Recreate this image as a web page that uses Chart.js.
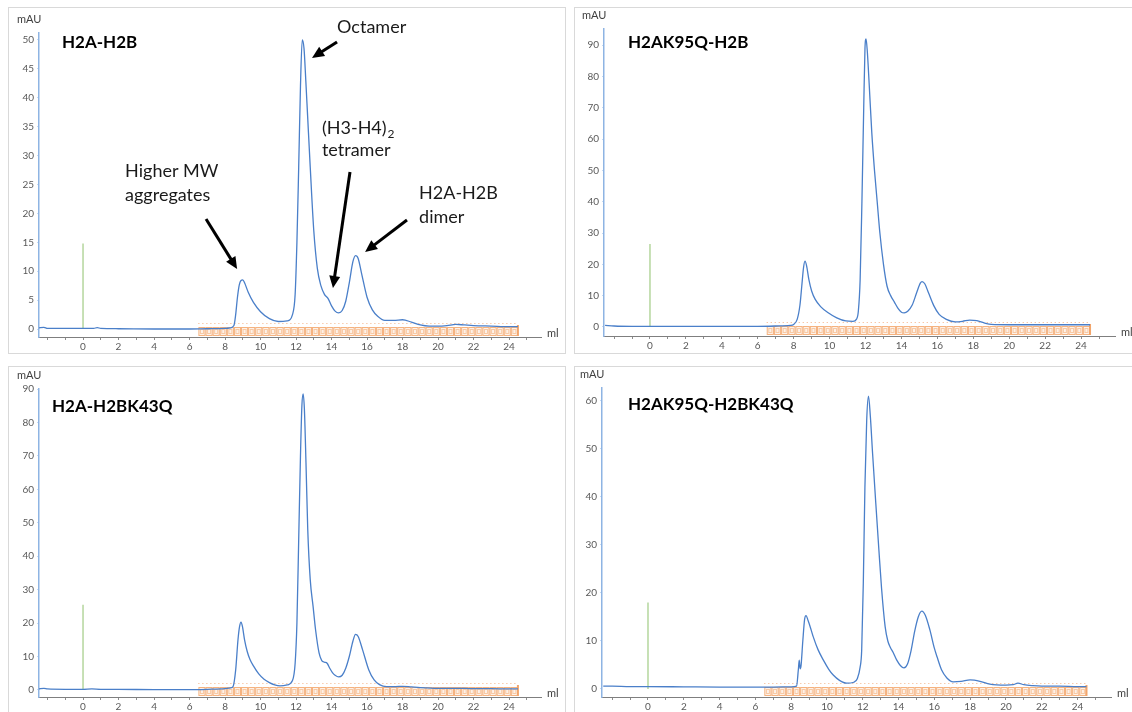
<!DOCTYPE html>
<html><head><meta charset="utf-8">
<script src="https://cdn.jsdelivr.net/npm/chart.js@4.4.0/dist/chart.umd.min.js"></script>
<style>
html,body{margin:0;padding:0;background:#fff;width:1132px;height:712px;overflow:hidden;}
.panel{position:absolute;border:1px solid #d9d9d9;box-sizing:border-box;background:#fff;}
.panel canvas{position:absolute;left:-1px;top:-1px;}
</style></head><body>
<div class="panel" style="left:8px;top:7px;width:558px;height:347px"><canvas id="c1" width="558" height="347"></canvas></div>
<div class="panel" style="left:574px;top:7px;width:560px;height:347px"><canvas id="c2" width="558" height="347"></canvas></div>
<div class="panel" style="left:8px;top:366px;width:558px;height:350px"><canvas id="c3" width="558" height="346"></canvas></div>
<div class="panel" style="left:574px;top:366px;width:560px;height:350px"><canvas id="c4" width="558" height="346"></canvas></div>
<script>
// ---- data (ml, mAU) ----
const titles = ['H2A-H2B', 'H2AK95Q-H2B', 'H2A-H2BK43Q', 'H2AK95Q-H2BK43Q'];

const h2aH2B_ml  = [-2.5,-2.2,-2.0,-1.5,0,0.6,0.8,1.0,2,4,6,7,8,8.3,8.5,8.6,8.7,8.8,8.9,9.0,9.1,9.3,9.6,10,10.5,11,11.5,11.8,11.95,12.05,12.15,12.25,12.35,12.45,12.55,12.65,12.8,13.0,13.2,13.4,13.6,13.8,14.0,14.2,14.4,14.6,14.8,15.0,15.2,15.35,15.5,15.7,16.0,16.3,16.6,17.0,17.5,18.0,18.5,19.0,19.5,20,20.5,21,21.5,22,23,24,24.5];
const h2aH2B_mAU = [0.2,0.3,0.1,0.1,0.1,0.1,0.25,0.1,0.05,0,0,0.05,0.1,0.2,0.6,2.5,5.5,7.6,8.4,8.5,8.0,6.4,4.6,3.0,1.8,1.3,1.4,2.5,6,15,28,42,50,48.5,43,37,28,17,10.5,7.5,6.0,5.3,4.0,3.1,2.8,3.2,4.8,8.0,11.6,12.7,12.2,9.5,5.5,3.3,2.2,1.5,1.5,1.6,1.2,0.7,0.5,0.5,0.6,0.8,0.7,0.6,0.5,0.4,0.4];

const k95q_ml  = [-2.5,-2,-1,0,2,4,6,7,7.8,8.0,8.2,8.35,8.45,8.55,8.63,8.72,8.85,9.0,9.2,9.5,9.9,10.4,10.9,11.3,11.5,11.6,11.7,11.8,11.9,11.97,12.03,12.1,12.2,12.35,12.5,12.65,12.8,13.0,13.2,13.4,13.6,13.8,14.0,14.15,14.35,14.6,14.85,15.05,15.15,15.3,15.5,15.8,16.1,16.5,17.0,17.4,17.8,18.2,18.6,19.0,20,21,22,23,24,24.5];
const k95q_mAU = [0.5,0.3,0.2,0.2,0.2,0.2,0.2,0.3,0.5,0.8,2.5,7,13,19,21,19.5,15,11.5,8.8,6.5,4.6,2.9,1.9,1.8,2.5,5,15,40,70,89,92,88,78,62,50,40,30,20,13,10,8,6,4.7,4.5,5.0,7.0,11,14,14.5,13.8,11,6.8,4,2.4,1.6,1.8,2.2,2.0,1.3,0.8,0.7,0.7,0.7,0.7,0.7,0.7];

const k43q_ml  = [-2.5,-2.2,-2,-1,0,0.5,1,2,4,6,7,8,8.3,8.45,8.6,8.73,8.82,8.9,8.98,9.1,9.25,9.4,9.6,9.9,10.2,10.5,10.8,11.1,11.5,11.8,11.95,12.05,12.15,12.25,12.33,12.4,12.47,12.56,12.66,12.8,12.96,13.1,13.3,13.45,13.6,13.75,13.9,14.05,14.2,14.4,14.6,14.8,15.0,15.2,15.35,15.5,15.75,16.1,16.4,16.7,17.1,17.6,18.0,18.5,19,20,21,22,23,24,24.5];
const k43q_mAU = [0.3,0.5,0.3,0.2,0.2,0.3,0.2,0.2,0.1,0.1,0.2,0.4,0.6,1.0,6,15,19,20.3,19,15,11.5,9.2,7.2,4.8,3.2,2.2,1.5,1.2,1.5,2.8,8,20,45,70,85,88.5,84,68,48,33,25,18,11,8.8,8.3,8.0,6.5,5.2,4.4,3.9,4.4,6.5,10,14.5,16.6,16,12,6,3,1.6,1.0,1.0,1.1,0.9,0.7,0.5,0.5,0.4,0.4,0.3,0.3];

const dbl_ml  = [-2.5,-2,-1,0,2,4,6,7,8,8.3,8.4,8.45,8.5,8.55,8.65,8.75,8.83,8.95,9.1,9.23,9.5,9.8,10.1,10.35,10.7,11.1,11.5,11.7,11.85,11.94,12.03,12.12,12.22,12.32,12.42,12.55,12.74,12.9,13.05,13.25,13.4,13.55,13.7,13.9,14.1,14.3,14.5,14.7,14.9,15.1,15.3,15.5,15.75,16.0,16.15,16.4,16.7,17.05,17.5,18.0,18.55,19.1,20.0,20.4,20.67,21.0,21.5,22,23,24,24.5];
const dbl_mAU = [0.6,0.6,0.5,0.5,0.45,0.4,0.4,0.4,0.45,0.6,4,6,4.2,4.8,10,14.5,15.3,14.2,12.5,10.9,8.2,6,4.1,2.9,1.8,1.2,1.4,2.2,4.5,8.1,22,42,56,61,57,49,38,29,21,13,10,8.6,7.6,6.0,4.9,4.4,5.2,8,12,15,16.2,15.3,12.3,8.5,6.7,4.0,2.3,1.5,1.6,1.9,1.6,1.0,0.8,0.9,1.2,0.9,0.7,0.6,0.6,0.5,0.5];

// injection marker heights (mAU) at 0 ml
const injectMarker = [14.8, 26.5, 25.5, 18];
// fraction collector boundaries (ml)
const fractionEdges = [6.5,6.9,7.3,7.7,8.1,8.5,8.9,9.3,9.7,10.1,10.5,10.9,11.3,11.7,12.1,12.5,12.9,13.3,13.7,14.1,14.5,14.9,15.3,15.7,16.1,16.5,16.9,17.3,17.7,18.1,18.5,18.9,19.3,19.7,20.1,20.5,20.9,21.3,21.7,22.1,22.5,22.9,23.3,23.7,24.1,24.5];
// tick values
const xTickMarks = [-2,-1,0,1,2,3,4,5,6,7,8,9,10,11,12,13,14,15,16,17,18,19,20,21,22,23,24,25];
const xTickLabels = [0,2,4,6,8,10,12,14,16,18,20,22,24];
const yTicks = [
  [0,5,10,15,20,25,30,35,40,45,50],
  [0,10,20,30,40,50,60,70,80,90],
  [0,10,20,30,40,50,60,70,80,90],
  [0,10,20,30,40,50,60]
];
// axis ranges
const yMin = [-1.38, -2.9, -2.1, -1.67];
const yMax = [51.2, 95.2, 90, 62.7];
const xMin = [-2.48, -2.56, -2.48, -2.57];
const xMax = [25.8, 25.89, 25.8, 25.87];

// annotations on first panel (data coords)
const noteTexts = [
  {t:'Octamer', x:14.31, y:52.25},
  {t:'(H3-H4)', sub:'2', x:13.46, y:34.78},
  {t:'tetramer', x:13.46, y:30.97},
  {t:'H2A-H2B', x:18.93, y:23.53},
  {t:'dimer', x:18.93, y:19.38},
  {t:'Higher MW', x:2.37, y:27.34},
  {t:'aggregates', x:2.37, y:23.18}
];
const noteArrows = [
  [14.31, 49.65, 12.90, 46.89],
  [15.04, 27.16, 14.08, 7.09],
  [18.25, 18.86, 15.89, 13.32],
  [6.93, 19.03, 8.68, 10.38]
];

const series = [[h2aH2B_ml,h2aH2B_mAU],[k95q_ml,k95q_mAU],[k43q_ml,k43q_mAU],[dbl_ml,dbl_mAU]];
// layout (pixels inside each canvas)
const areas = [
  {l:31,t:26,r:533,b:330,w:558,h:347,tx:23,ty:10},
  {l:30,t:22,r:541,b:329,w:558,h:347,tx:24,ty:14},
  {l:31,t:23,r:533,b:331,w:558,h:346,tx:13,ty:18},
  {l:28,t:22,r:537,b:331,w:558,h:346,tx:26,ty:17}
];

const FONT = 'Lato, "Open Sans", sans-serif';

function drawArrow(ctx, x1, y1, x2, y2) {
  const a = Math.atan2(y2 - y1, x2 - x1), hl = 12, hw = 5.5;
  ctx.save();
  ctx.strokeStyle = '#000'; ctx.fillStyle = '#000'; ctx.lineWidth = 3;
  ctx.beginPath(); ctx.moveTo(x1, y1);
  ctx.lineTo(x2 - hl * 0.8 * Math.cos(a), y2 - hl * 0.8 * Math.sin(a)); ctx.stroke();
  ctx.beginPath(); ctx.moveTo(x2, y2);
  ctx.lineTo(x2 - hl * Math.cos(a) + hw * Math.sin(a), y2 - hl * Math.sin(a) - hw * Math.cos(a));
  ctx.lineTo(x2 - hl * Math.cos(a) - hw * Math.sin(a), y2 - hl * Math.sin(a) + hw * Math.cos(a));
  ctx.closePath(); ctx.fill();
  ctx.restore();
}

const decorPlugin = {
  id: 'decor',
  beforeDatasetsDraw(chart, args, opts) {
    const ctx = chart.ctx, xs = chart.scales.x, b = chart.chartArea.bottom;
    ctx.save();
    ctx.strokeStyle = '#f4b183'; ctx.lineWidth = 1; ctx.setLineDash([1, 3]);
    ctx.beginPath();
    ctx.moveTo(xs.getPixelForValue(fractionEdges[0]), b - 13.5);
    ctx.lineTo(xs.getPixelForValue(fractionEdges[fractionEdges.length - 1]), b - 13.5);
    ctx.stroke(); ctx.setLineDash([]);
    for (let i = 0; i < fractionEdges.length - 1; i++) {
      const x0 = xs.getPixelForValue(fractionEdges[i]), x1 = xs.getPixelForValue(fractionEdges[i + 1]);
      ctx.fillStyle = 'rgba(252,232,216,0.6)';
      ctx.fillRect(x0 + 0.5, b - 9.5, x1 - x0 - 1, 8);
      ctx.strokeStyle = '#f5b27f';
      ctx.strokeRect(x0 + 0.5, b - 9.5, x1 - x0 - 1, 8);
      ctx.strokeStyle = '#f8c9a4';
      const cx = (x0 + x1) / 2;
      ctx.strokeRect(cx - 1.5, b - 7.5, 3, 4);
    }
    const xe = xs.getPixelForValue(fractionEdges[fractionEdges.length - 1]);
    ctx.fillStyle = '#f2a56b';
    ctx.fillRect(xe - 1, b - 12, 2, 11);
    ctx.restore();
  },
  afterDraw(chart, args, opts) {
    const ctx = chart.ctx, ca = chart.chartArea, xs = chart.scales.x, ys = chart.scales.y;
    ctx.save();
    ctx.fillStyle = '#404040'; ctx.font = '11px ' + FONT; ctx.textBaseline = 'middle';
    ctx.textAlign = 'left';
    ctx.fillText('mAU', ca.left - 22, ca.top - 14);
    ctx.fillText('ml', ca.right + 6, ca.bottom - 4);
    ctx.fillStyle = '#000'; ctx.font = 'bold 17px ' + FONT;
    ctx.fillText(opts.title, ca.left + opts.tx, ca.top + opts.ty);
    if (opts.notes) {
      ctx.fillStyle = '#1a1a1a';
      noteTexts.forEach(n => {
        const px = xs.getPixelForValue(n.x), py = ys.getPixelForValue(n.y);
        ctx.font = '18px ' + FONT;
        ctx.fillText(n.t, px, py);
        if (n.sub) {
          const w = ctx.measureText(n.t).width;
          ctx.font = '12px ' + FONT;
          ctx.fillText(n.sub, px + w + 1, py + 6);
        }
      });
      noteArrows.forEach(a => drawArrow(ctx, xs.getPixelForValue(a[0]), ys.getPixelForValue(a[1]),
        xs.getPixelForValue(a[2]), ys.getPixelForValue(a[3])));
    }
    ctx.restore();
  }
};

series.forEach((s, i) => {
  const A = areas[i];
  const pts = s[0].map((x, k) => ({x: x, y: s[1][k]}));
  new Chart(document.getElementById('c' + (i + 1)), {
    type: 'line',
    data: {
      datasets: [
        {data: pts, borderColor: '#4a7fc9', borderWidth: 1.3, pointRadius: 0, cubicInterpolationMode: 'monotone', fill: false},
        {data: [{x: 0, y: 0}, {x: 0, y: injectMarker[i]}], borderColor: '#a9d08e', borderWidth: 1.3, pointRadius: 0}
      ]
    },
    options: {
      responsive: false, animation: false, devicePixelRatio: 1,
      layout: {padding: {left: 0, top: A.t, right: A.w - A.r, bottom: 0}},
      plugins: {legend: {display: false}, tooltip: {enabled: false},
        decor: {title: titles[i], tx: A.tx, ty: A.ty, notes: i === 0}},
      scales: {
        x: {
          type: 'linear', min: xMin[i], max: xMax[i],
          afterFit: sc => { sc.height = A.h - A.b; },
          afterBuildTicks: sc => { sc.ticks = xTickMarks.map(v => ({value: v})); },
          ticks: {autoSkip: false, maxRotation: 0, padding: 1, color: '#595959',
            font: {size: 10, family: FONT},
            callback: v => xTickLabels.includes(v) ? String(v) : ''},
          grid: {drawOnChartArea: false, drawTicks: true, tickLength: 3, color: '#8c8c8c'},
          border: {color: '#7f7f7f', width: 1}
        },
        y: {
          type: 'linear', min: yMin[i], max: yMax[i],
          afterFit: sc => { sc.width = A.l; },
          afterBuildTicks: sc => { sc.ticks = yTicks[i].map(v => ({value: v})); },
          ticks: {autoSkip: false, padding: 3, color: '#595959', font: {size: 10, family: FONT}},
          grid: {drawOnChartArea: false, drawTicks: true, tickLength: 2, color: '#c6d9f1'},
          border: {color: '#8eb4e3', width: 1.5}
        }
      }
    },
    plugins: [decorPlugin]
  });
});
</script>
</body></html>
